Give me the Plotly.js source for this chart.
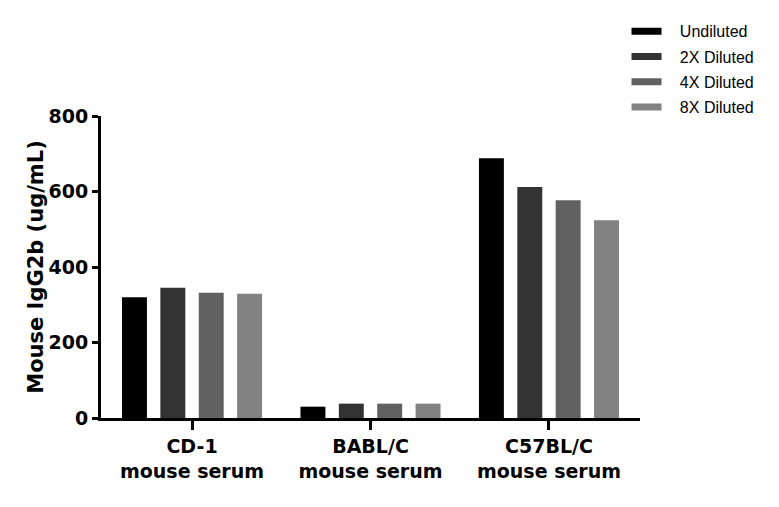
<!DOCTYPE html>
<html>
<head>
<meta charset="utf-8">
<script src="https://cdn.plot.ly/plotly-3.0.1.min.js"></script>
<style>body{margin:0;background:#fff}#chart{width:779px;height:507px}</style>
</head>
<body>
<div id="chart"></div>
<script>
const categories = ['CD-1<br>mouse serum', 'BABL/C<br>mouse serum', 'C57BL/C<br>mouse serum']
const seriesNames = ['Undiluted', '2X Diluted', '4X Diluted', '8X Diluted']
const undiluted = [320, 30, 688]
const diluted2x = [345, 38, 612]
const diluted4x = [332, 38, 577]
const diluted8x = [329, 38, 524]
const yTicks = [0, 200, 400, 600, 800]
const colors = ['#000000', '#333333', '#616161', '#828282']

const values = [undiluted, diluted2x, diluted4x, diluted8x]
const labelFont = { family: 'DejaVu Sans, sans-serif', size: 19, color: '#000', weight: 'bold' }

let data = []
values.forEach((v, i) => {
    data.push({
        type: 'bar',
        x: categories,
        y: v,
        name: seriesNames[i],
        marker: { color: colors[i] },
        showlegend: false
    })
})
// legend entries drawn as thick dashes, like the original
// (a few nbsp push the text away from the dash)
values.forEach((v, i) => {
    data.push({
        type: 'scatter',
        mode: 'lines',
        x: [null],
        y: [null],
        name: '\u00a0\u00a0\u00a0' + seriesNames[i],
        legendgroup: 'g' + i,
        line: { color: colors[i], width: 7 },
        hoverinfo: 'skip'
    })
})

const layout = {
    width: 779,
    height: 507,
    margin: { l: 101, r: 139, t: 116, b: 89 },
    paper_bgcolor: '#fff',
    plot_bgcolor: '#fff',
    barmode: 'group',
    bargap: 0.14,
    bargroupgap: 0.35,
    xaxis: {
        range: [-0.51, 2.51],
        showline: true,
        linecolor: '#000',
        linewidth: 3,
        ticks: 'outside',
        ticklen: 9,
        tickwidth: 3,
        tickcolor: '#000',
        showgrid: false,
        zeroline: false,
        tickfont: labelFont,
        fixedrange: true
    },
    yaxis: {
        range: [0, 800],
        tickvals: yTicks,
        ticktext: yTicks.map(String),
        showline: true,
        linecolor: '#000',
        linewidth: 3,
        ticks: 'outside',
        ticklen: 6,
        tickwidth: 3,
        tickcolor: '#000',
        showgrid: false,
        zeroline: false,
        tickfont: { family: 'DejaVu Sans, sans-serif', size: 19, color: '#000', weight: 'bold' },
        title: { text: 'Mouse IgG2b (ug/mL)', font: { family: 'DejaVu Sans, sans-serif', size: 21, color: '#000', weight: 'bold' }, standoff: 0 },
        fixedrange: true
    },
    legend: {
        x: 0.975,
        y: 1.337,
        xanchor: 'left',
        yanchor: 'top',
        font: { family: 'Liberation Sans, Arial, sans-serif', size: 16, color: '#000' },
        tracegroupgap: 1.5,
        itemwidth: 30,
        bgcolor: 'rgba(0,0,0,0)'
    },
    font: { family: 'DejaVu Sans, sans-serif' }
}

Plotly.newPlot('chart', data, layout, { displayModeBar: false, staticPlot: true })
</script>
</body>
</html>
